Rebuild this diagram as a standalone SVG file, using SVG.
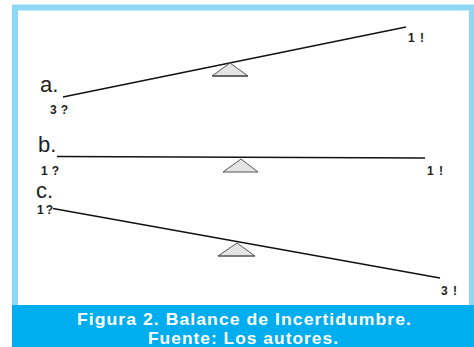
<svg xmlns="http://www.w3.org/2000/svg" width="474" height="347" viewBox="0 0 474 347">
<style>
.beam{stroke:#111;stroke-width:1.3;fill:none}
.pivot{fill:#e4e4e4;stroke:#555;stroke-width:1}
.lbl{font-family:"Liberation Sans",Arial,sans-serif;font-size:22px;fill:#222}
.val{font-family:"Liberation Sans",Arial,sans-serif;font-size:12px;font-weight:bold;fill:#222}
.cap{font-family:"Liberation Sans",Arial,sans-serif;font-size:17px;font-weight:bold;fill:#fff;letter-spacing:1px}
</style>
<rect x="0" y="0" width="474" height="347" fill="#fff"/>
<rect id="frame" x="15" y="7.5" width="457" height="310" fill="#fff" stroke="#8ed8f6" stroke-width="6"/>
<g id="caption">
<rect x="12" y="305" width="462" height="42" fill="#00aeef"/>
<text class="cap" x="244.5" y="325" text-anchor="middle" textLength="335" lengthAdjust="spacingAndGlyphs">Figura 2. Balance de Incertidumbre.</text>
<text class="cap" x="243.5" y="344" text-anchor="middle" textLength="191" lengthAdjust="spacingAndGlyphs">Fuente: Los autores.</text>
</g>
<g id="connectors">
<line class="beam" x1="63" y1="97" x2="406" y2="27"/>
<line class="beam" x1="57" y1="156.5" x2="425" y2="158" stroke-width="1.5"/>
<line class="beam" x1="53" y1="208.5" x2="440" y2="278"/>
</g>
<g id="scale-a">
<polygon class="pivot" points="230,63 212,76 248,76"/>
<line x1="212" y1="76" x2="248" y2="76" stroke="#555" stroke-width="1.5"/>
<text class="lbl" x="40" y="92">a.</text>
<text class="val" x="50" y="114" textLength="18" lengthAdjust="spacing">3 ?</text>
<text class="val" x="408" y="42" textLength="16" lengthAdjust="spacing">1 !</text>
</g>
<g id="scale-b">
<polygon class="pivot" points="241,159 223,172 258,172"/>
<text class="lbl" x="38" y="152">b.</text>
<text class="val" x="41" y="175" textLength="18" lengthAdjust="spacing">1 ?</text>
<text class="val" x="427" y="175" textLength="16" lengthAdjust="spacing">1 !</text>
</g>
<g id="scale-c">
<polygon class="pivot" points="237,243 218,256 255,256"/>
<line x1="218" y1="256" x2="255" y2="256" stroke="#555" stroke-width="1.2"/>
<text class="lbl" x="36" y="198">c.</text>
<text class="val" x="37" y="214" textLength="16" lengthAdjust="spacing">1 ?</text>
<text class="val" x="441" y="295" textLength="16" lengthAdjust="spacing">3 !</text>
</g>
</svg>
